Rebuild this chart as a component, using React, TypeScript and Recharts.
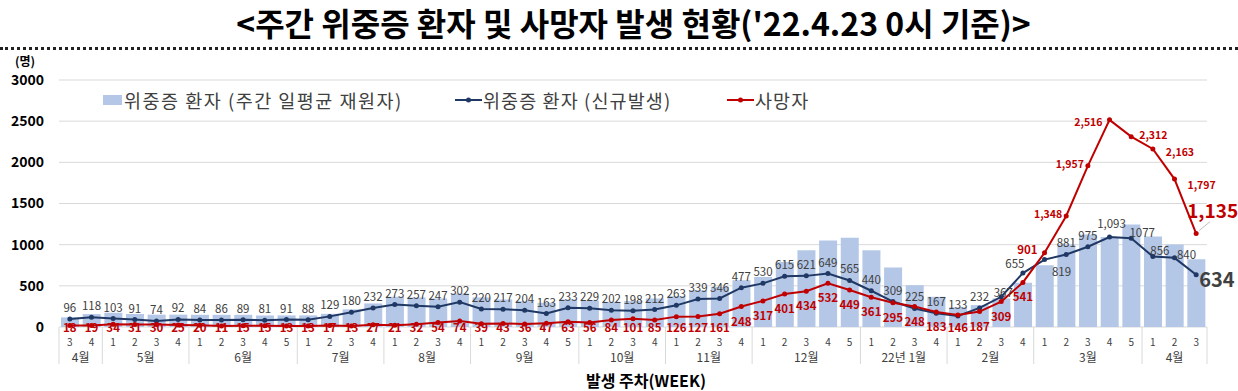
import React from 'react';
import {
  ComposedChart,
  Bar,
  Line,
  XAxis,
  YAxis,
  CartesianGrid,
  LabelList
} from 'recharts';

// week number under each bar
const weekLabels = [
  3, 4,
  1, 2, 3, 4,
  1, 2, 3, 4, 5,
  1, 2, 3, 4,
  1, 2, 3, 4,
  1, 2, 3, 4, 5,
  1, 2, 3, 4,
  1, 2, 3, 4,
  1, 2, 3, 4, 5,
  1, 2, 3, 4,
  1, 2, 3, 4,
  1, 2, 3, 4, 5,
  1, 2, 3
];
const monthNames = ['4월', '5월', '6월', '7월', '8월', '9월', '10월', '11월', '12월', '22년 1월', '2월', '3월', '4월'];
const monthSpans = [2, 4, 5, 4, 4, 5, 4, 4, 5, 4, 4, 5, 3];

// 위중증 환자 (주간 일평균 재원자) - bars
const severeInpatients = [
  117, 157,
  173, 157, 150, 150,
  148, 148, 148, 141, 141,
  141, 160, 214, 286,
  367, 359, 347, 407,
  359, 335, 314, 294, 335,
  320, 306, 315, 347,
  375, 447, 487, 568,
  608, 790, 931, 1052, 1085,
  931, 722, 508, 367,
  240, 266, 347, 536,
  750, 1003, 1124, 1092, 1245,
  1100, 1003, 822
];

// 위중증 환자 (신규발생)
const severeNew = [
  96, 118,
  103, 91, 74, 92,
  84, 86, 89, 81, 91,
  88, 129, 180, 232,
  273, 257, 247, 302,
  220, 217, 204, 163, 233,
  229, 202, 198, 212,
  263, 339, 346, 477,
  530, 615, 621, 649, 565,
  440, 309, 225, 167,
  133, 232, 367, 655,
  819, 881, 975, 1093, 1077,
  856, 840, 634
];

// 사망자
const deaths = [
  18, 19,
  34, 31, 30, 25,
  20, 11, 15, 15, 13,
  13, 17, 13, 27,
  21, 32, 54, 74,
  39, 43, 36, 47, 63,
  56, 84, 101, 85,
  126, 127, 161, 248,
  317, 401, 434, 532, 449,
  361, 295, 248, 183,
  146, 187, 309, 541,
  901, 1348, 1957, 2516, 2312,
  2163, 1797, 1135
];

const yTicks = [0, 500, 1000, 1500, 2000, 2500, 3000];

const data = weekLabels.map((w, i) => ({
  idx: i,
  week: w,
  inpatients: severeInpatients[i],
  newSevere: severeNew[i],
  deaths: deaths[i]
}));

const groupStarts: Record<number, { name: string; span: number }> = {};
let acc = 0;
monthNames.forEach((m, i) => {
  groupStarts[acc] = { name: m, span: monthSpans[i] };
  acc += monthSpans[i];
});

const W = 1238;
const H = 391;
const PLOT_TOP = 80;
const PLOT_LEFT = 59;
const PLOT_RIGHT = 1207;
const PLOT_BOTTOM = 327;
const BAND = (PLOT_RIGHT - PLOT_LEFT) / data.length;

const BAR_COLOR = '#b4c7e7';
const NAVY = '#1f3864';
const RED = '#c00000';
const TEXT = '#404040';

const fmt = (v: number) => v.toLocaleString('en-US');

type LabelPos = { dx: number; dy: number; anchor?: string; size?: number; bold?: boolean; raw?: boolean };

// label placement tweaks (everything else sits above the navy line / below the red line)
const navyPos: Record<number, LabelPos> = {
  43: { dx: 2, dy: -5 },
  44: { dx: -8, dy: -10 },
  45: { dx: 17, dy: 11 },
  48: { dx: 2, dy: -14 },
  49: { dx: 11, dy: -6, raw: true },
  50: { dx: 7, dy: -7 },
  51: { dx: 12, dy: -4 },
  52: { dx: 3, dy: 4, anchor: 'start', size: 20, bold: true }
};

const redPos: Record<number, LabelPos> = {
  45: { dx: -7, dy: -4, anchor: 'end' },
  46: { dx: -4, dy: -3, anchor: 'end', size: 10.5 },
  47: { dx: -4, dy: -2, anchor: 'end', size: 10.5 },
  48: { dx: -7, dy: 2, anchor: 'end', size: 10.5 },
  49: { dx: 8, dy: -2, anchor: 'start', size: 10.5 },
  50: { dx: 13, dy: 3, anchor: 'start', size: 10.5 },
  51: { dx: 13, dy: 5, anchor: 'start', size: 10.5 },
  52: { dx: -9, dy: -24, anchor: 'start', size: 19 }
};

const renderNavyLabel = (p: any) => {
  const { x, y, value, index } = p;
  const s = navyPos[index] || { dx: 0, dy: -12 };
  return (
    <text
      x={x + s.dx}
      y={y + s.dy}
      textAnchor={s.anchor || 'middle'}
      dominantBaseline="central"
      fontSize={s.size || 11.5}
      fontWeight={s.bold ? 700 : 400}
      fill={TEXT}
    >
      {s.raw ? String(value) : fmt(value)}
    </text>
  );
};

const renderRedLabel = (p: any) => {
  const { x, y, value, index } = p;
  const s = redPos[index];
  const lx = s ? x + s.dx : x;
  const ly = s ? y + s.dy : Math.min(y + 14, PLOT_BOTTOM);
  return (
    <g>
      {index === 52 && <line x1={x + 3} y1={y - 3} x2={x + 14} y2={y - 12} stroke="#bfbfbf" />}
      <text
        x={lx}
        y={ly}
        textAnchor={s?.anchor || 'middle'}
        dominantBaseline="central"
        fontSize={s?.size || 11.5}
        fontWeight={700}
        fill={RED}
      >
        {fmt(value)}
      </text>
    </g>
  );
};

// week number + month group row with separators
const WeekTick = (props: any) => {
  const { x, y, payload } = props;
  const i = payload.value as number;
  const g = groupStarts[i];
  const left = x - BAND / 2;
  return (
    <g>
      <text x={x} y={y + 14} textAnchor="middle" dominantBaseline="central" fontSize={10} fill={TEXT}>
        {weekLabels[i]}
      </text>
      {g && <line x1={left} x2={left} y1={y} y2={y + 37} stroke="#d9d9d9" />}
      {g && (
        <text
          x={x + ((g.span - 1) * BAND) / 2}
          y={y + 29}
          textAnchor="middle"
          dominantBaseline="central"
          fontSize={12}
          fill={TEXT}
        >
          {g.name}
        </text>
      )}
      {i === data.length - 1 && (
        <line x1={x + BAND / 2} x2={x + BAND / 2} y1={y} y2={y + 37} stroke="#d9d9d9" />
      )}
    </g>
  );
};

const legendText: React.CSSProperties = {
  position: 'absolute',
  top: 88,
  fontSize: 18.5,
  color: TEXT,
  lineHeight: '24px',
  whiteSpace: 'nowrap'
};

export default function App() {
  return (
    <div
      style={{
        position: 'absolute',
        left: 0,
        top: 0,
        width: W,
        height: H,
        background: '#fff',
        fontFamily: "'Noto Sans CJK KR', 'Noto Sans', sans-serif"
      }}
    >
      <div
        style={{
          position: 'absolute',
          left: 0,
          top: 1,
          width: 1267,
          textAlign: 'center',
          fontSize: 32,
          fontWeight: 700,
          lineHeight: '42px',
          color: '#000',
          whiteSpace: 'nowrap'
        }}
      >
        {"<주간 위중증 환자 및 사망자 발생 현황('22.4.23 0시 기준)>"}
      </div>
      <div style={{ position: 'absolute', left: 0, top: 47, width: W, borderTop: '3px dotted #222' }} />

      <div
        style={{
          position: 'absolute',
          left: 15,
          top: 55,
          fontSize: 12,
          lineHeight: '12px',
          fontWeight: 700,
          color: '#000'
        }}
      >
        (명)
      </div>

      <ComposedChart
        width={W}
        height={H}
        data={data}
        margin={{ top: PLOT_TOP, right: W - PLOT_RIGHT, bottom: 0, left: 0 }}
        barCategoryGap={0}
      >
        <CartesianGrid vertical={false} stroke="#d9d9d9" />
        <XAxis
          dataKey="idx"
          type="category"
          interval={0}
          height={H - PLOT_BOTTOM}
          axisLine={false}
          tickLine={false}
          tickSize={0}
          tickMargin={0}
          tick={<WeekTick />}
        />
        <YAxis
          width={PLOT_LEFT}
          domain={[0, 3000]}
          ticks={yTicks}
          axisLine={false}
          tickLine={false}
          tickSize={0}
          tickMargin={15}
          tick={{ fontSize: 14, fontWeight: 700, fill: '#000' }}
        />
        <Bar dataKey="inpatients" fill={BAR_COLOR} barSize={18} isAnimationActive={false} />
        <Line
          type="linear"
          dataKey="newSevere"
          stroke={NAVY}
          strokeWidth={2}
          dot={{ r: 2.5, fill: NAVY, stroke: NAVY, strokeWidth: 0 }}
          isAnimationActive={false}
        >
          <LabelList dataKey="newSevere" content={renderNavyLabel} />
        </Line>
        <Line
          type="linear"
          dataKey="deaths"
          stroke={RED}
          strokeWidth={2}
          dot={{ r: 2.5, fill: RED, stroke: RED, strokeWidth: 0 }}
          isAnimationActive={false}
        >
          <LabelList dataKey="deaths" content={renderRedLabel} />
        </Line>
      </ComposedChart>

      {/* legend */}
      <div style={{ position: 'absolute', left: 103, top: 95, width: 19, height: 10, background: BAR_COLOR }} />
      <div style={{ ...legendText, left: 124, letterSpacing: 1.5 }}>위중증 환자 (주간 일평균 재원자)</div>
      <svg style={{ position: 'absolute', left: 455, top: 94 }} width={27} height={12}>
        <line x1={0} x2={27} y1={6} y2={6} stroke={NAVY} strokeWidth={2} />
        <circle cx={13.5} cy={6} r={2.5} fill={NAVY} />
      </svg>
      <div style={{ ...legendText, left: 483, letterSpacing: 1.1 }}>위중증 환자 (신규발생)</div>
      <svg style={{ position: 'absolute', left: 727, top: 94 }} width={27} height={12}>
        <line x1={0} x2={27} y1={6} y2={6} stroke={RED} strokeWidth={2} />
        <circle cx={13.5} cy={6} r={2.5} fill={RED} />
      </svg>
      <div style={{ ...legendText, left: 755, letterSpacing: 1.1 }}>사망자</div>

      <div
        style={{
          position: 'absolute',
          left: 0,
          top: 368,
          width: 1292,
          textAlign: 'center',
          fontSize: 16,
          fontWeight: 700,
          color: '#000'
        }}
      >
        발생 주차(WEEK)
      </div>
    </div>
  );
}
